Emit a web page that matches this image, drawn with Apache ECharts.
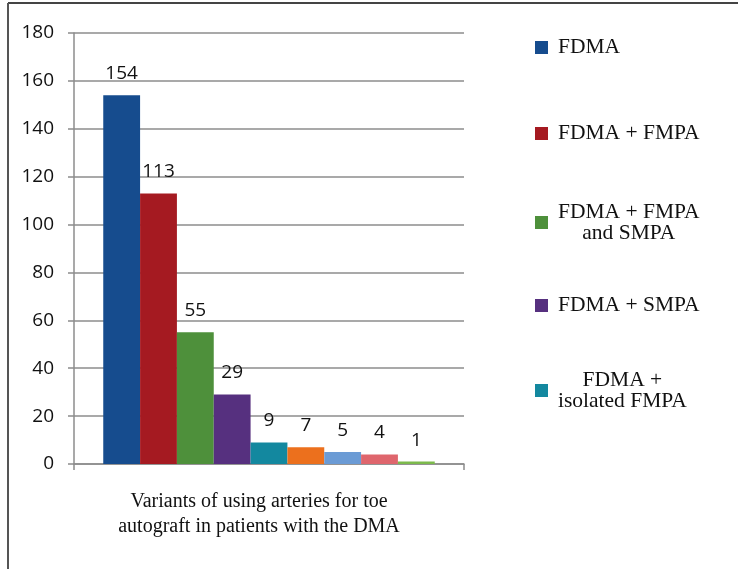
<!DOCTYPE html>
<html>
<head>
<meta charset="utf-8">
<script src="https://cdn.jsdelivr.net/npm/echarts@6/dist/echarts.min.js"></script>
<style>
  html, body { margin: 0; padding: 0; background: #fff; }
  #chart { width: 738px; height: 569px; }
</style>
</head>
<body>
<div id="chart"></div>
<script>
// Artery variants used for toe autograft (patient counts)
const seriesNames = [
  'FDMA',
  'FDMA + FMPA',
  'FDMA + FMPA\nand SMPA',
  'FDMA + SMPA',
  'FDMA +\nisolated FMPA',
  'Variant 6',
  'Variant 7',
  'Variant 8',
  'Variant 9'
];
const seriesValues = [154, 113, 55, 29, 9, 7, 5, 4, 1];
const seriesColors = ['#164c8e', '#a51a21', '#4e903b', '#56307f', '#13889f', '#ec701d', '#6b9bd5', '#df666d', '#7cba4c'];
const legendNames = seriesNames.slice(0, 5);
const legendCenters = [47, 133, 222, 305, 390];
const categories = [''];
const axisTitle = 'Variants of using arteries for toe\nautograft in patients with the DMA';
const yMin = 0, yMax = 180, yStep = 20;

const serif = '"Liberation Serif", "DejaVu Serif", serif';
const sans = '"Open Sans", "Noto Sans", sans-serif';
const legendLine = 21;

const chart = echarts.init(document.getElementById('chart'), null, { renderer: 'canvas' });

const series = seriesNames.map((name, i) => ({
  name: name,
  type: 'bar',
  data: [seriesValues[i]],
  barGap: '0%',
  barCategoryGap: '15%',
  itemStyle: { color: seriesColors[i] },
  label: {
    show: true,
    position: 'top',
    distance: 12,
    color: '#111',
    fontFamily: sans,
    fontSize: 19
  }
}));

const legends = legendNames.map((name, i) => {
  const lines = name.split('\n').length;
  return {
    data: [name],
    left: 535,
    top: legendCenters[i] - (lines * legendLine) / 2,
    padding: 0,
    orient: 'vertical',
    icon: 'rect',
    itemWidth: 13,
    itemHeight: 13,
    selectedMode: false,
    formatter: n => n.split('\n').map(s => '{c|' + s + '}').join('\n'),
    textStyle: {
      padding: [0, 0, 0, 5],
      rich: {
        c: {
          fontFamily: serif,
          fontSize: 21.5,
          lineHeight: legendLine,
          color: '#111',
          align: 'center'
        }
      }
    }
  };
});

chart.setOption({
  animation: false,
  backgroundColor: '#fff',
  legend: legends,
  grid: { left: 74, right: 274, top: 33, bottom: 105, containLabel: false },
  xAxis: {
    type: 'category',
    data: categories,
    name: axisTitle,
    nameLocation: 'middle',
    nameGap: 25,
    nameTextStyle: { fontFamily: serif, fontSize: 20, lineHeight: 25, color: '#111', padding: [0, 20, 0, 0] },
    axisLine: { lineStyle: { color: '#8c8c8c', width: 1.5 } },
    axisTick: { show: true, length: 6, lineStyle: { color: '#8c8c8c', width: 1.5 } },
    axisLabel: { show: false }
  },
  yAxis: {
    type: 'value',
    min: yMin,
    max: yMax,
    interval: yStep,
    axisLine: { show: true, lineStyle: { color: '#8c8c8c', width: 1.5 } },
    axisTick: { show: true, length: 6, lineStyle: { color: '#8c8c8c', width: 1.5 } },
    axisLabel: { fontFamily: sans, fontSize: 19, color: '#111', margin: 20 },
    splitLine: { lineStyle: { color: '#8c8c8c', width: 1.5 } }
  },
  graphic: [
    { type: 'line', shape: { x1: 8, y1: 3, x2: 738, y2: 3 }, style: { stroke: '#444', lineWidth: 2 } },
    { type: 'line', shape: { x1: 8, y1: 3, x2: 8, y2: 569 }, style: { stroke: '#555', lineWidth: 2 } }
  ],
  series: series
});
</script>
</body>
</html>
